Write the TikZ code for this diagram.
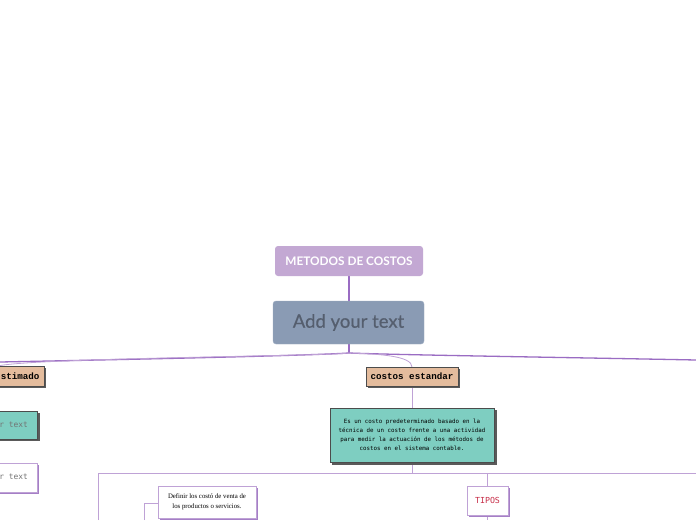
\documentclass[tikz,border=0pt]{standalone}
\usepackage{fontspec}
\setmainfont{Lato}
\newfontfamily\monofont{DejaVu Sans Mono}
\newfontfamily\slabfont{Liberation Mono}
\newfontfamily\serifsmall{Liberation Serif}
\newfontfamily\mainlabelfont[FakeBold=0.5]{Lato}
\begin{document}
\begin{tikzpicture}[x=1pt,y=-1pt,
  thick line/.style={draw=purpline, line width=1.3pt},
  thin line/.style={draw=lightpurp, line width=0.8pt},
  tanbox/.style={draw=black!70, fill=tanfill, line width=0.6pt, inner sep=0pt,
     font=\slabfont\bfseries\fontsize{9.2}{10}\selectfont},
  tealbox/.style={draw=black!70, fill=tealfill, line width=0.6pt, inner sep=0pt, align=center},
  whitebox/.style={draw=lightpurp, fill=white, line width=0.8pt, inner sep=0pt, align=center},
]
\definecolor{purpline}{HTML}{9A6CC3}
\definecolor{lightpurp}{HTML}{BFA2D6}
\definecolor{topfill}{HTML}{C3A8D3}
\definecolor{mainfill}{HTML}{8A9BB4}
\definecolor{maintext}{HTML}{555E6E}
\definecolor{tanfill}{HTML}{E4BC9D}
\definecolor{tealfill}{HTML}{7ECEC1}
\definecolor{shadowgrey}{HTML}{5A5A5A}
\definecolor{shadowpurp}{HTML}{A57FC6}
\definecolor{tiposred}{HTML}{C8304A}
\useasboundingbox (0,0) rectangle (696,520);
\fill[white] (0,0) rectangle (696,520);

% connectors (drawn first)
\coordinate (hub) at (349,353);
\coordinate (leftend) at (0,362);
\coordinate (rightend) at (696,360);
\draw[thick line] (349,276) -- (349,301);
\draw[thick line] (349,344) -- (hub);
\draw[thick line] (hub) .. controls (300,356) and (100,360) .. (leftend);
\draw[thick line] (hub) .. controls (400,355) and (600,358) .. (rightend);
\draw[thin line] (hub) .. controls (330,356) and (30,358) .. (-2,366);
\draw[thin line] (hub) .. controls (380,354) and (412,356) .. (412,367);
\draw[thin line] (412,386) -- (412,408);
\draw[thin line] (412,462) -- (412,473);
\coordinate (brL) at (98,473);
\coordinate (brR) at (696,473);
\coordinate (brLb) at (98,520);
\draw[thin line] (brLb) -- (brL) -- (brR);
\draw[thin line] (487,473) -- (487,486);
\draw[thin line] (487,515) -- (487,520);
\coordinate (defb) at (144,520);
\draw[thin line] (defb) -- (144,503) -- (158,503);

% top title
\node[fill=topfill, rounded corners=3pt, minimum width=148pt, minimum height=30pt,
  text=white, font=\bfseries\fontsize{11.8}{12}\selectfont] (title) at (349,261) {METODOS DE COSTOS};
% main node
\node[fill=mainfill, draw=mainfill!80!white, rounded corners=3pt, minimum width=151pt, minimum height=43pt,
  text=maintext, font=\mainlabelfont\fontsize{18.5}{20}\selectfont] (main) at (348.5,322.5) {Add your text};

% costos estandar
\fill[shadowgrey] (368,369) rectangle (460,388);
\node[tanbox, minimum width=92pt, minimum height=19pt] (est) at (412,376.5) {costos estandar};
% costos estimado (cut)
\fill[shadowgrey] (-46,368) rectangle (46,388);
\node[tanbox, minimum width=92pt, minimum height=20pt] (estim) at (-2,376) {costos estimado};

% teal description
\fill[shadowgrey] (332,410) rectangle (497,465);
\node[tealbox, minimum width=164pt, minimum height=54pt,
  font=\monofont\fontsize{5.8}{9}\selectfont] (desc) at (412,435) {Es un costo predeterminado basado en la\\técnica de un costo frente a una actividad\\para medir la actuación de los métodos de\\costos en el sistema contable.};

% left teal "Add your text"
\fill[shadowgrey] (-41,413) rectangle (40,441);
\node[tealbox, minimum width=81pt, minimum height=28pt, text=black!55,
  font=\monofont\fontsize{7.9}{9}\selectfont] (lt) at (-3,425) {Add your text};
% left white "Add your text"
\fill[shadowpurp] (-41,465) rectangle (39,494);
\node[whitebox, minimum width=80pt, minimum height=29pt, text=black!55,
  font=\monofont\fontsize{7.9}{9}\selectfont] (lw) at (-3,477.5) {Add your text};

% TIPOS
\fill[shadowpurp] (469,488) rectangle (510,517);
\node[whitebox, minimum width=41pt, minimum height=29pt, text=tiposred,
  font=\monofont\fontsize{8.3}{9}\selectfont] (tipos) at (487.5,500.5) {TIPOS};

% Definir
\fill[shadowpurp] (160,488) rectangle (258,520);
\node[whitebox, minimum width=98pt, minimum height=32pt,
  font=\serifsmall\fontsize{6.8}{9.5}\selectfont] (def) at (207,502) {Definir los costó de venta de\\los productos o servicios.};
\end{tikzpicture}
\end{document}
